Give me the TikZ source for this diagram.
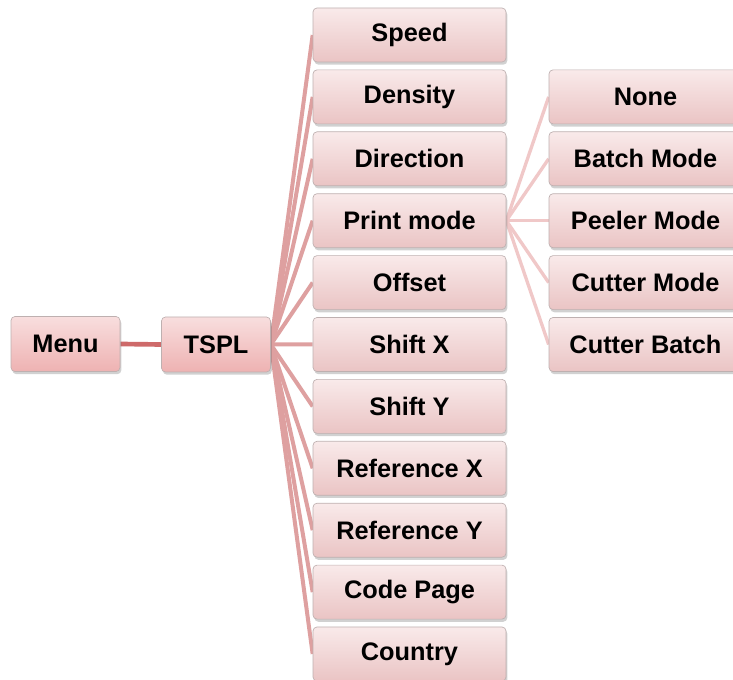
\documentclass[tikz,border=0pt]{standalone}
\usepackage{fontspec}
\setmainfont{Liberation Sans}
\usepackage{tikz}
\usetikzlibrary{shadows}
\usetikzlibrary{backgrounds}

\definecolor{boxtop}{RGB}{249,234,234}
\definecolor{boxbot}{RGB}{234,196,196}
\definecolor{roottop}{RGB}{248,222,222}
\definecolor{rootbot}{RGB}{238,178,178}
\definecolor{boxline}{RGB}{190,176,176}
\definecolor{linkcol}{RGB}{222,160,160}
\definecolor{leafcol}{RGB}{240,200,200}
\definecolor{rootlink}{RGB}{206,106,106}

\tikzset{
  item/.style={draw=boxline, line width=0.5pt, rounded corners=3pt,
    top color=boxtop, bottom color=boxbot,
    minimum width=144.75pt, minimum height=40.5pt, inner sep=0pt,
    font=\fontsize{19}{22}\selectfont\bfseries,
    drop shadow={shadow xshift=1pt, shadow yshift=-2pt, opacity=0.3, fill=black!60}},
  rootitem/.style={item, top color=roottop, bottom color=rootbot, minimum width=81.75pt, minimum height=41.25pt},
  link/.style={draw=linkcol, line width=3pt},
  leaflink/.style={draw=leafcol, line width=2.5pt}
}

\begin{document}
\begin{tikzpicture}[x=0.75pt, y=-0.75pt]
        \useasboundingbox (0,0) rectangle (733,680);
        \node[rootitem] (menu) at (65.5,344) {Menu};
        \node[rootitem] (tspl) at (216,344.5) {TSPL};
        \foreach \name/\label [count=\i from 0] in {speed/Speed, density/Density, direction/Direction, printmode/Print mode, offset/Offset, shiftx/Shift X, shifty/Shift Y, refx/Reference X, refy/Reference Y, codepage/Code Page, country/Country}
          \node[item] (\name) at (409.5, 35+61.9*\i) {\label};
        \foreach \name/\label [count=\i from 1] in {none/None, batch/Batch Mode, peeler/Peeler Mode, cutter/Cutter Mode, cutbatch/Cutter Batch}
          \node[item] (\name) at (645.5, 35+61.9*\i) {\label};
        \begin{scope}[on background layer]
          \draw[rootlink, line width=3.5pt] (menu.east) -- (tspl.west);
          \foreach \name in {speed, density, direction, printmode, offset, shiftx, shifty, refx, refy, codepage, country}
            \draw[link] (tspl.east) -- (\name.west);
          \foreach \name in {none, batch, peeler, cutter, cutbatch}
            \draw[leaflink] (printmode.east) -- (\name.west);
        \end{scope}
      \end{tikzpicture}
\end{document}
